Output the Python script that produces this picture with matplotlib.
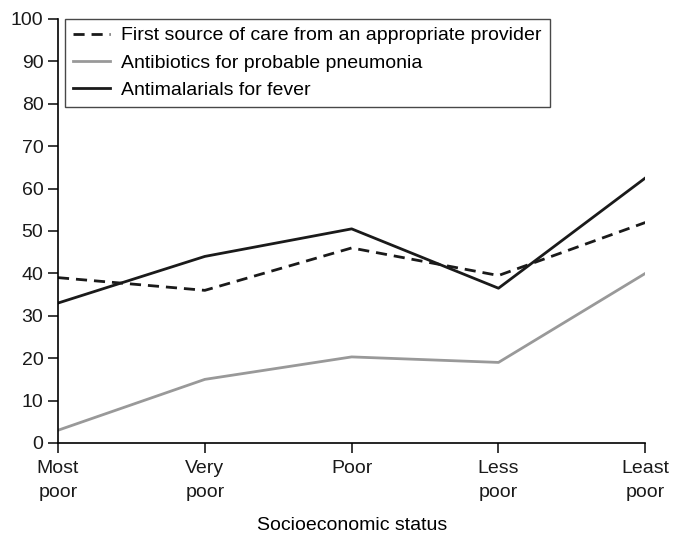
import matplotlib
matplotlib.use("Agg")
import matplotlib.pyplot as plt

# Data
categories = ["Most\npoor", "Very\npoor", "Poor", "Less\npoor", "Least\npoor"]
first_source = [39, 36, 46, 39.5, 52]
antibiotics = [3, 15, 20.3, 19, 40]
antimalarials = [33, 44, 50.5, 36.5, 62.5]

plt.rcParams["font.family"] = ["Liberation Sans", "DejaVu Sans"]
plt.rcParams["font.size"] = 14

fig = plt.figure(figsize=(6.79, 5.35), dpi=100)
ax = fig.add_axes([0.0854, 0.172, 0.865, 0.7925])

x = list(range(len(categories)))
ax.plot(x, first_source, color="#1a1a1a", linestyle=(0, (4, 2.5)), linewidth=2,
        label="First source of care from an appropriate provider")
ax.plot(x, antibiotics, color="#999999", linewidth=2,
        label="Antibiotics for probable pneumonia")
ax.plot(x, antimalarials, color="#1a1a1a", linewidth=2,
        label="Antimalarials for fever")

ax.set_xlim(0, 4)
ax.set_ylim(0, 100)
ax.set_yticks(range(0, 101, 10))
ax.set_xticks(x)
ax.set_xticklabels(categories, linespacing=1.6)
ax.set_xlabel("Socioeconomic status", labelpad=11)

for side in ["top", "right"]:
    ax.spines[side].set_visible(False)
for side in ["left", "bottom"]:
    ax.spines[side].set_linewidth(1.2)
ax.tick_params(direction="out", length=7, width=1.2, colors="#1a1a1a")
ax.tick_params(axis="x", pad=5)

leg = ax.legend(loc="upper left", bbox_to_anchor=(0.012, 1.0), frameon=True,
                fancybox=False, edgecolor="#1a1a1a", handlelength=1.9,
                handletextpad=0.6, borderpad=0.4, labelspacing=0.5,
                borderaxespad=0)
leg.get_frame().set_linewidth(1.0)

fig.savefig("out.png", dpi=100)
